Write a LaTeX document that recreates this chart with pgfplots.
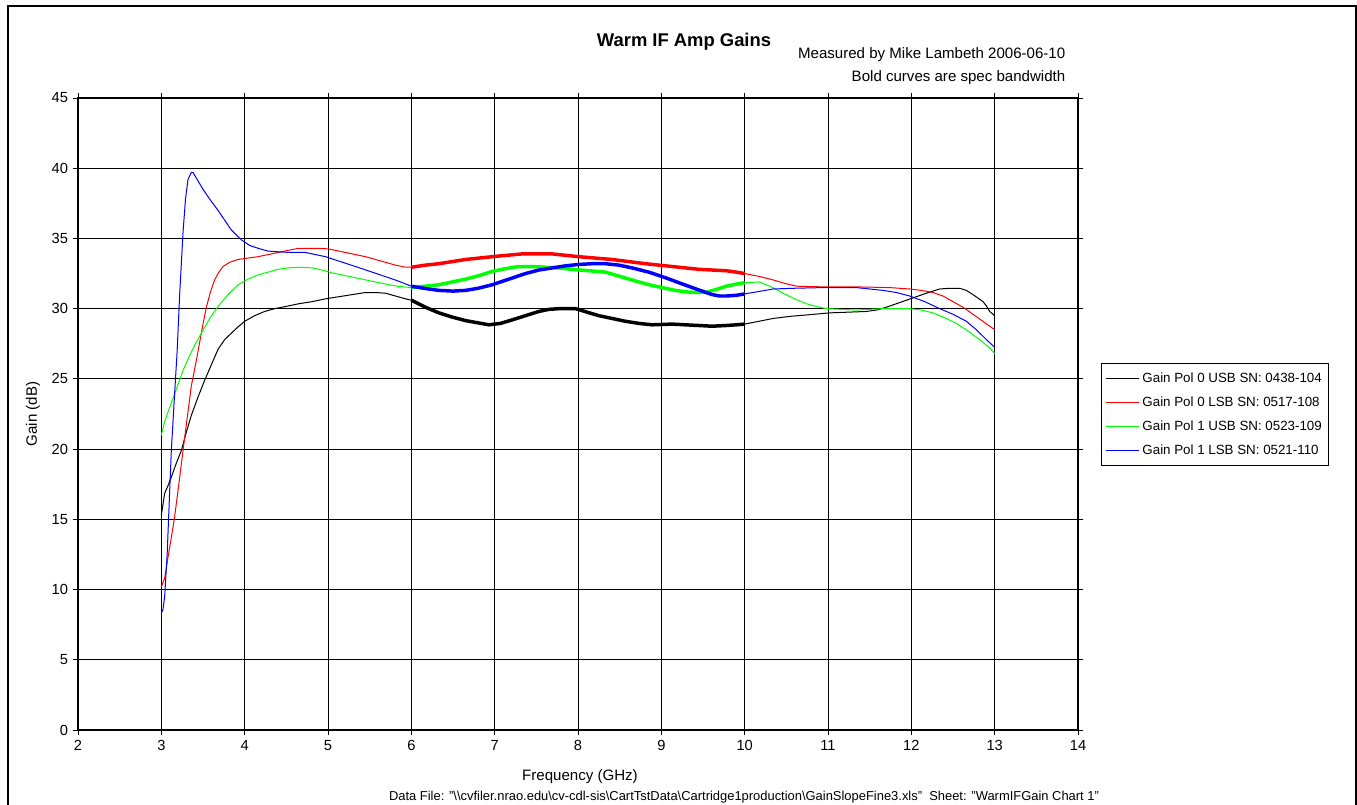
\documentclass[border=0pt]{standalone}
\usepackage{pgfplots}
\pgfplotsset{compat=1.18}
\usepackage{fontspec}
\setmainfont{Liberation Sans}

\definecolor{cBlack}{RGB}{0,0,0}
\definecolor{cRed}{RGB}{255,0,0}
\definecolor{cGreen}{RGB}{0,255,0}
\definecolor{cBlue}{RGB}{0,0,255}

\pgfplotsset{
  thin curve/.style={line width=0.75pt, no markers, line join=round},
  bold curve/.style={line width=2.6pt, no markers, line join=round, forget plot},
}

\begin{document}
\begin{tikzpicture}
% page frame and free text, in pixel units (y downwards from the top edge)
\begin{scope}[x=0.75pt, y=-0.75pt, yshift=603.75pt]
  \useasboundingbox (0,0) rectangle (1357,805);
  \draw[line width=1.5pt] (8,820) -- (8,6) -- (1356,6) -- (1356,820);
  \node[font=\fontsize{13.8}{16}\selectfont\bfseries] at (684,42) {Warm IF Amp Gains};
  \node[font=\fontsize{11.3}{13}\selectfont, anchor=east] at (1070,55) {Measured by Mike Lambeth 2006-06-10};
  \node[font=\fontsize{11.3}{13}\selectfont, anchor=east] at (1070,78) {Bold curves are spec bandwidth};
  \node[font=\fontsize{9.7}{11}\selectfont] at (744,797) {Data File: "\textbackslash\textbackslash cvfiler.nrao.edu\textbackslash cv-cdl-sis\textbackslash CartTstData\textbackslash Cartridge1production\textbackslash GainSlopeFine3.xls"\ \ Sheet: "WarmIFGain Chart 1"};
\end{scope}

\begin{axis}[
  at={(58.5pt,56.25pt)}, anchor=south west,
  scale only axis, width=750pt, height=474pt,
  xmin=2, xmax=14, ymin=0, ymax=45,
  xtick={2,3,...,14}, ytick={0,5,...,45},
  grid=major,
  major grid style={black, line width=0.6pt},
  axis line style={black, line width=0.8pt},
  tick style={black, line width=0.6pt},
  tick align=outside, major tick length=4pt,
  ticklabel style={font=\fontsize{11}{13}\selectfont},
  /pgf/number format/assume math mode=true,
  xlabel={Frequency (GHz)}, ylabel={Gain (dB)},
  label style={font=\fontsize{11.3}{13}\selectfont},
  xlabel style={at={(axis description cs:0.502,-0.0744)}, anchor=center},
  ylabel style={at={(axis description cs:-0.045,0.5)}, anchor=center, rotate=0},
  legend cell align=left,
  legend style={at={(1.023,0.5807)}, anchor=north west,
    draw=black, line width=0.6pt,
    font=\fontsize{10}{12}\selectfont,
    inner xsep=3pt, inner ysep=5pt, row sep=5.3pt},
  legend image code/.code={\draw[#1, line width=0.8pt] (0pt,0pt) -- (25pt,0pt);},
]

% ---- Gain Pol 0 USB SN: 0438-104 ----
\addplot[cBlack, thin curve] coordinates {
(3.0,15.3)(3.04,16.85)(3.08,17.4)(3.12,18.0)(3.18,19.0)(3.24,19.9)(3.30,21.2)(3.36,22.4)(3.44,23.7)(3.52,24.9)(3.60,26.0)(3.68,27.1)(3.76,27.8)(3.84,28.25)(3.92,28.7)(4.0,29.1)(4.12,29.5)(4.24,29.8)(4.36,30.0)(4.49,30.15)(4.65,30.35)(4.81,30.5)(4.97,30.7)(5.13,30.85)(5.29,31.0)(5.45,31.15)(5.57,31.15)(5.69,31.1)(5.81,30.9)(5.93,30.7)(6.0,30.6)};
\addlegendentry{Gain Pol 0 USB SN: 0438-104}
% ---- Gain Pol 0 LSB SN: 0517-108 ----
\addplot[cRed, thin curve] coordinates {
(3.0,10.2)(3.04,10.8)(3.08,12.3)(3.12,13.7)(3.16,15.2)(3.21,17.5)(3.26,19.9)(3.31,22.2)(3.36,24.5)(3.41,26.0)(3.46,27.6)(3.50,28.9)(3.54,30.1)(3.59,31.2)(3.64,32.05)(3.69,32.6)(3.74,33.0)(3.82,33.3)(3.92,33.5)(4.04,33.6)(4.16,33.7)(4.28,33.85)(4.40,34.0)(4.52,34.15)(4.65,34.3)(4.77,34.3)(4.89,34.3)(5.01,34.25)(5.13,34.1)(5.29,33.9)(5.45,33.7)(5.57,33.5)(5.69,33.3)(5.81,33.1)(5.93,32.95)(6.0,32.95)};
\addlegendentry{Gain Pol 0 LSB SN: 0517-108}
% ---- Gain Pol 1 USB SN: 0523-109 ----
\addplot[cGreen, thin curve] coordinates {
(3.0,21.0)(3.04,21.95)(3.09,22.8)(3.14,23.6)(3.20,24.6)(3.26,25.6)(3.32,26.4)(3.40,27.4)(3.48,28.25)(3.58,29.3)(3.68,30.15)(3.80,31.0)(3.92,31.7)(4.04,32.1)(4.16,32.4)(4.28,32.6)(4.40,32.8)(4.52,32.9)(4.65,32.95)(4.81,32.9)(4.93,32.75)(5.05,32.55)(5.21,32.35)(5.37,32.15)(5.53,31.95)(5.69,31.75)(5.83,31.6)(6.0,31.5)};
\addlegendentry{Gain Pol 1 USB SN: 0523-109}
% ---- Gain Pol 1 LSB SN: 0521-110 ----
\addplot[cBlue, thin curve] coordinates {
(3.00,8.3)(3.02,8.6)(3.04,9.5)(3.07,12.5)(3.10,17.0)(3.12,19.9)(3.16,24.0)(3.19,27.0)(3.22,31.0)(3.26,35.4)(3.29,37.8)(3.32,39.2)(3.36,39.7)(3.38,39.7)(3.42,39.3)(3.50,38.5)(3.58,37.8)(3.68,37.0)(3.76,36.3)(3.84,35.6)(3.96,34.9)(4.06,34.5)(4.16,34.3)(4.28,34.1)(4.40,34.05)(4.55,34.0)(4.73,34.0)(4.85,33.85)(4.97,33.7)(5.15,33.35)(5.33,33.0)(5.53,32.6)(5.73,32.2)(5.85,31.95)(6.0,31.6)};
\addlegendentry{Gain Pol 1 LSB SN: 0521-110}

% upper band, thin
\addplot[cBlack, thin curve, forget plot] coordinates {
(10.0,28.9)(10.17,29.1)(10.34,29.3)(10.54,29.45)(10.74,29.55)(11.02,29.7)(11.24,29.75)(11.46,29.8)(11.58,29.9)(11.7,30.1)(11.82,30.35)(11.94,30.6)(12.06,30.85)(12.18,31.1)(12.34,31.4)(12.46,31.45)(12.58,31.45)(12.66,31.3)(12.74,31.0)(12.8,30.75)(12.86,30.5)(12.9,30.2)(12.94,29.8)(13.0,29.5)};
\addplot[cRed, thin curve, forget plot] coordinates {
(10.0,32.5)(10.17,32.3)(10.34,32.05)(10.48,31.8)(10.62,31.6)(10.94,31.55)(11.34,31.55)(11.74,31.5)(11.98,31.4)(12.12,31.3)(12.26,31.15)(12.38,30.9)(12.5,30.5)(12.62,30.1)(12.74,29.6)(12.87,29.05)(13.0,28.5)};
\addplot[cGreen, thin curve, forget plot] coordinates {
(10.0,31.85)(10.18,31.9)(10.32,31.55)(10.46,31.1)(10.6,30.7)(10.74,30.35)(10.86,30.15)(10.98,30.0)(11.34,29.9)(11.66,30.0)(11.98,30.0)(12.12,29.9)(12.26,29.7)(12.4,29.35)(12.54,28.95)(12.68,28.4)(12.82,27.8)(12.94,27.2)(13.0,26.8)};
\addplot[cBlue, thin curve, forget plot] coordinates {
(10.0,31.05)(10.15,31.2)(10.34,31.4)(10.58,31.45)(10.94,31.5)(11.34,31.5)(11.5,31.4)(11.66,31.3)(11.82,31.15)(11.98,30.9)(12.16,30.5)(12.34,30.0)(12.5,29.6)(12.66,29.1)(12.78,28.5)(12.9,27.8)(13.0,27.25)};

% spec bandwidth 6-10 GHz, bold
\addplot[cBlack, bold curve] coordinates {
(6.0,30.6)(6.17,30.1)(6.33,29.7)(6.49,29.4)(6.65,29.15)(6.79,29.0)(6.93,28.85)(7.07,28.95)(7.21,29.2)(7.37,29.5)(7.53,29.8)(7.65,29.95)(7.77,30.0)(7.97,30.0)(8.11,29.75)(8.25,29.5)(8.41,29.3)(8.57,29.1)(8.73,28.95)(8.89,28.85)(9.13,28.9)(9.29,28.85)(9.45,28.8)(9.61,28.75)(9.78,28.8)(9.9,28.85)(10.0,28.9)};
\addplot[cRed, bold curve] coordinates {
(6.0,32.95)(6.17,33.1)(6.33,33.2)(6.49,33.35)(6.65,33.5)(6.81,33.6)(6.97,33.7)(7.15,33.8)(7.33,33.9)(7.51,33.9)(7.69,33.9)(7.85,33.8)(8.01,33.7)(8.21,33.6)(8.41,33.5)(8.61,33.35)(8.81,33.2)(8.97,33.1)(9.13,33.0)(9.29,32.9)(9.45,32.8)(9.61,32.75)(9.78,32.7)(9.9,32.6)(10.0,32.5)};
\addplot[cGreen, bold curve] coordinates {
(6.0,31.5)(6.17,31.6)(6.33,31.7)(6.49,31.9)(6.65,32.1)(6.81,32.35)(6.97,32.65)(7.13,32.85)(7.29,33.0)(7.45,33.0)(7.61,32.95)(7.77,32.9)(7.93,32.8)(8.13,32.7)(8.33,32.6)(8.53,32.25)(8.73,31.9)(8.89,31.65)(9.05,31.45)(9.17,31.3)(9.29,31.2)(9.41,31.15)(9.53,31.15)(9.65,31.35)(9.78,31.6)(9.9,31.75)(10.0,31.85)};
\addplot[cBlue, bold curve] coordinates {
(6.0,31.6)(6.15,31.45)(6.33,31.3)(6.5,31.25)(6.65,31.3)(6.8,31.45)(6.97,31.7)(7.17,32.1)(7.37,32.5)(7.53,32.75)(7.69,32.9)(7.85,33.05)(8.01,33.15)(8.17,33.2)(8.33,33.2)(8.49,33.1)(8.65,32.9)(8.85,32.6)(9.05,32.2)(9.21,31.85)(9.37,31.5)(9.49,31.25)(9.61,31.0)(9.7,30.9)(9.78,30.9)(9.9,30.95)(10.0,31.05)};
\end{axis}
\end{tikzpicture}
\end{document}
